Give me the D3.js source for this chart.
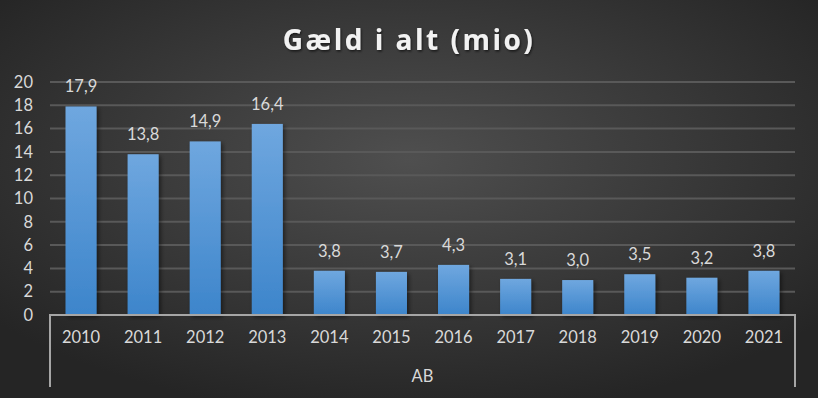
<!DOCTYPE html>
<html><head><meta charset="utf-8">
<script src="https://cdn.jsdelivr.net/npm/d3@7"></script>
<style>html,body{margin:0;padding:0;background:#333;}svg{display:block;}</style>
</head><body>
<script>
const categories = ["2010","2011","2012","2013","2014","2015","2016","2017","2018","2019","2020","2021"];
const values = [17.9,13.8,14.9,16.4,3.8,3.7,4.3,3.1,3.0,3.5,3.2,3.8];
const yTicks = [0,2,4,6,8,10,12,14,16,18,20];
const groupLabel = "AB";
const title = "Gæld i alt (mio)";

(function(){
const W = 818, H = 398;
const mLeft = 50, mRight = 795, mTop = 82, mBottom = 315;
const font = "Lato, 'Open Sans', sans-serif";
const fs = 16.5;
const svg = d3.select("body").append("svg").attr("width", W).attr("height", H);
const defs = svg.append("defs");
const bg = defs.append("radialGradient").attr("id","bg").attr("cx","50%").attr("cy","40%").attr("r","65%");
bg.append("stop").attr("offset","0%").attr("stop-color","#4f4f4f");
bg.append("stop").attr("offset","100%").attr("stop-color","#252525");
const bar = defs.append("linearGradient").attr("id","bar").attr("x1",0).attr("x2",0).attr("y1",0).attr("y2",1);
bar.append("stop").attr("offset","0%").attr("stop-color","#6fa7df");
bar.append("stop").attr("offset","100%").attr("stop-color","#3d85cb");
const sh = defs.append("filter").attr("id","sh").attr("x","-30%").attr("y","-30%").attr("width","160%").attr("height","160%");
sh.append("feDropShadow").attr("dx",2).attr("dy",2).attr("stdDeviation",2).attr("flood-color","#000").attr("flood-opacity",0.5);
const tsh = defs.append("filter").attr("id","tsh");
tsh.append("feDropShadow").attr("dx",1).attr("dy",1.5).attr("stdDeviation",1.2).attr("flood-color","#000").attr("flood-opacity",0.6);

svg.append("rect").attr("width",W).attr("height",H).attr("fill","url(#bg)");

const x = d3.scaleBand().domain(categories).range([mLeft,mRight]).paddingInner(0.5).paddingOuter(0.25);
const y = d3.scaleLinear().domain([0,20]).range([mBottom,mTop]);

svg.append("g").selectAll("line").data(yTicks.filter(d=>d>0)).join("line")
  .attr("x1",mLeft).attr("x2",mRight).attr("y1",d=>y(d)).attr("y2",d=>y(d))
  .attr("stroke","#595959").attr("stroke-width",2);

const ya = svg.append("g").attr("transform",`translate(${mLeft-17},0)`)
  .call(d3.axisLeft(y).tickValues(yTicks).tickSize(0).tickPadding(0));
ya.select(".domain").remove();
ya.selectAll("text").attr("font-family",font).attr("font-size",fs).attr("fill","#d9d9d9");

svg.append("g").selectAll("rect").data(values).join("rect")
  .attr("x",(d,i)=>x(categories[i])).attr("width",x.bandwidth())
  .attr("y",d=>y(d)).attr("height",d=>y(0)-y(d))
  .attr("fill","url(#bar)").attr("filter","url(#sh)");

svg.append("g").selectAll("text").data(values).join("text")
  .attr("x",(d,i)=>x(categories[i])+x.bandwidth()/2).attr("y",d=>y(d)-14)
  .attr("text-anchor","middle").attr("font-family",font).attr("font-size",fs)
  .attr("fill","#d9d9d9").text(d=>d3.format(".1f")(d).replace(".",","));

const xa = svg.append("g").attr("transform",`translate(0,${mBottom})`)
  .call(d3.axisBottom(x).tickSize(0).tickPadding(16));
xa.select(".domain").remove();
xa.selectAll("text").attr("font-family",font).attr("font-size",fs).attr("fill","#d9d9d9");
svg.append("path").attr("d",`M${mLeft},387V${mBottom}H${mRight}V387`).attr("fill","none").attr("stroke","#a6a6a6").attr("stroke-width",2);

svg.append("text").attr("x",(mLeft+mRight)/2).attr("y",382).attr("text-anchor","middle")
  .attr("font-family",font).attr("font-size",fs).attr("fill","#d9d9d9").text(groupLabel);

svg.append("text").attr("x",409).attr("y",50).attr("text-anchor","middle")
  .attr("font-family","'Open Sans', Lato, sans-serif").attr("font-weight","bold").attr("font-size",28)
  .attr("letter-spacing",2.5).attr("fill","#f2f2f2").attr("filter","url(#tsh)").text(title);
})();
</script>
</body></html>
